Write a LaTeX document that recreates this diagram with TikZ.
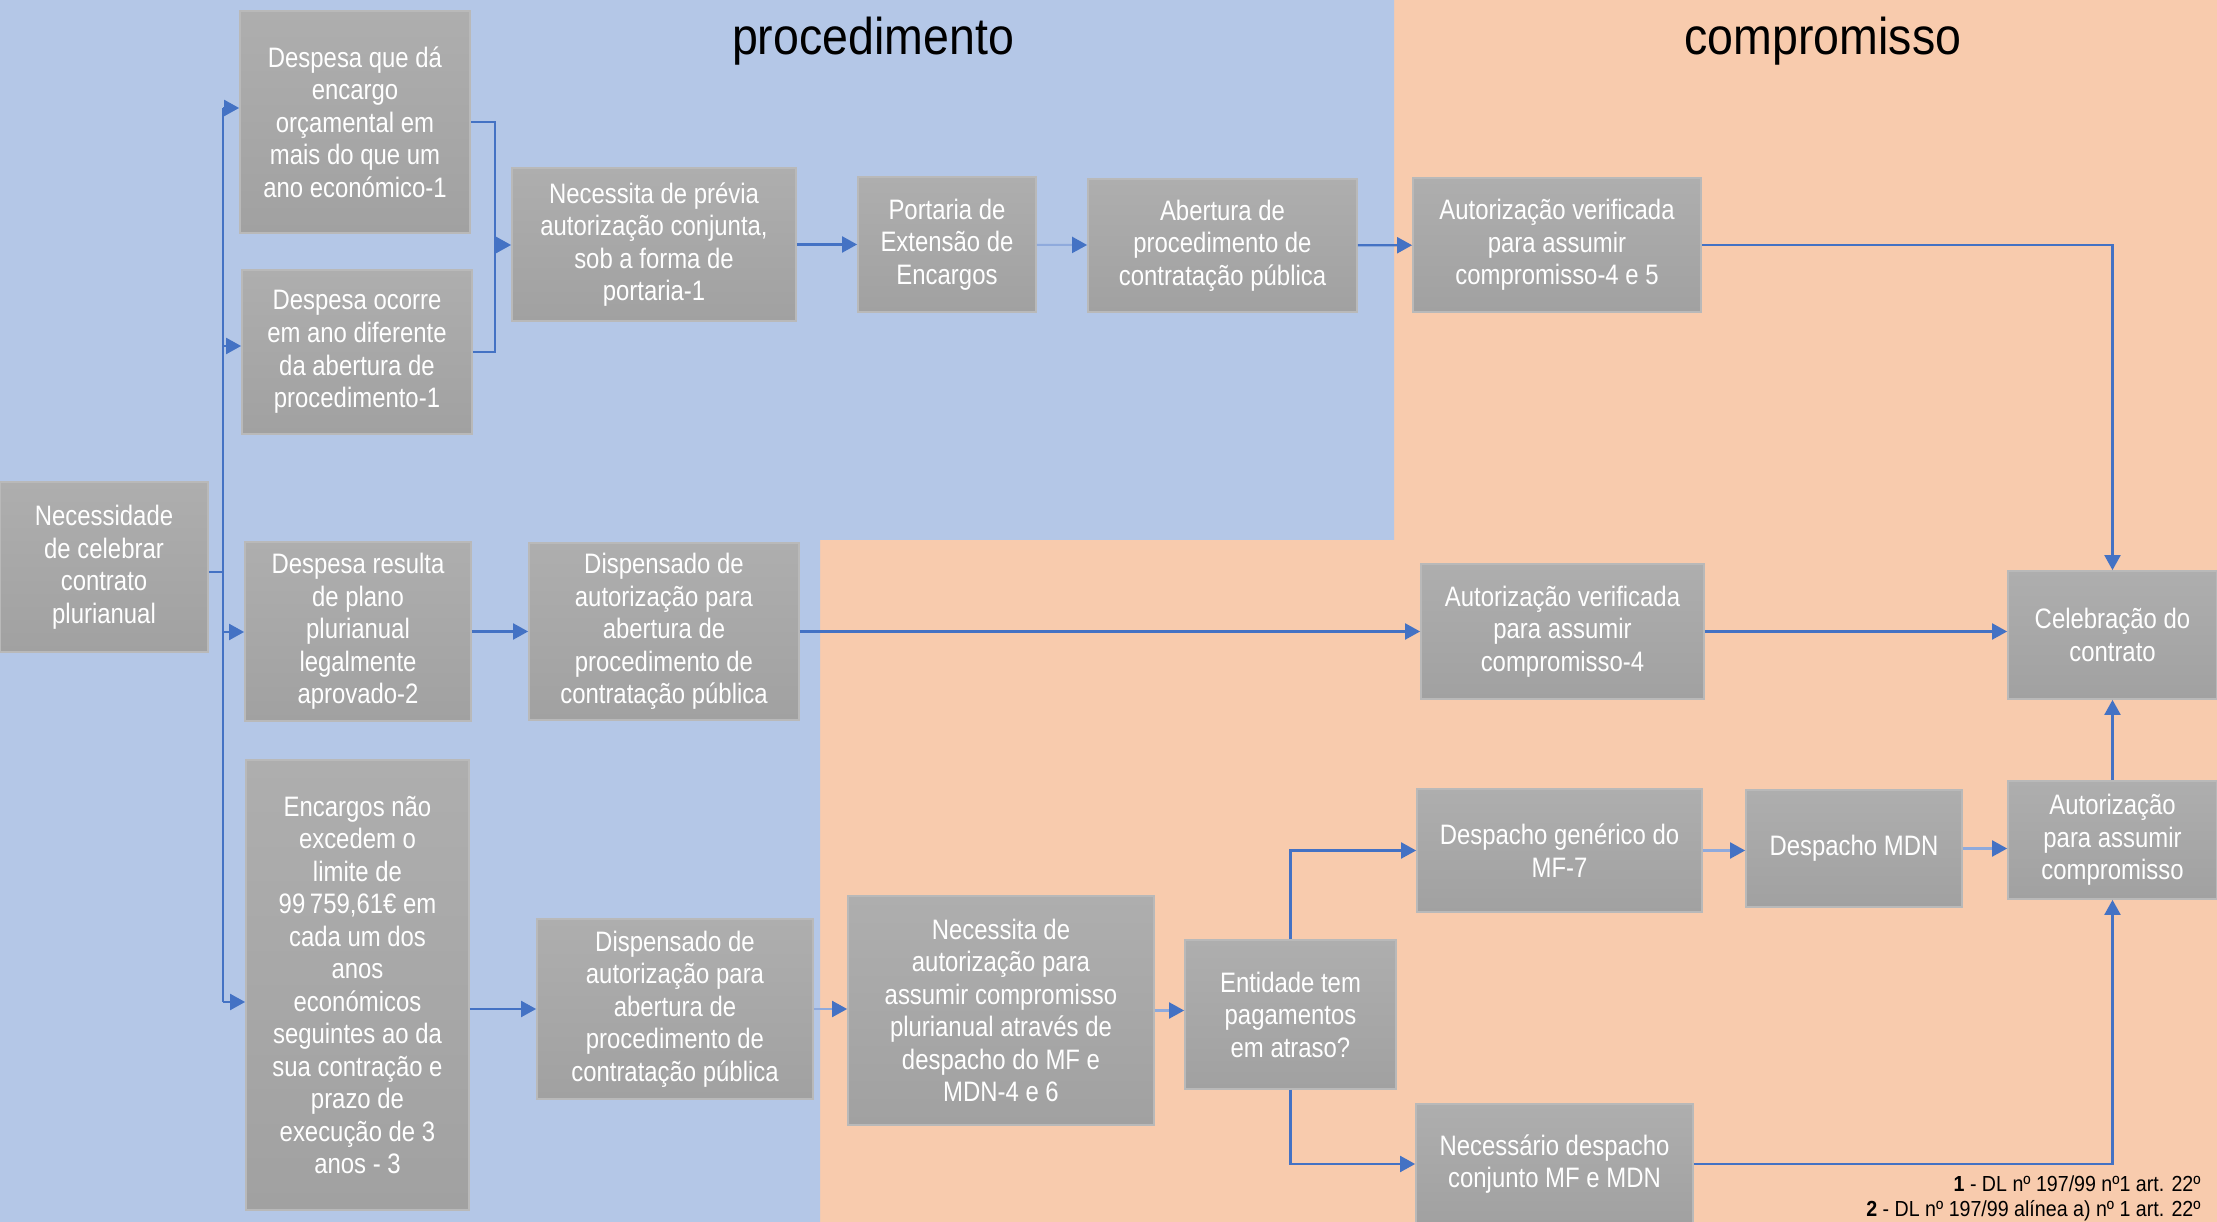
\documentclass[tikz,border=0pt]{standalone}
\usepackage{fontspec}
\setmainfont{Liberation Sans}[FakeStretch=0.85]
\newfontfamily\titlefont{Liberation Sans}[FakeStretch=0.9]
\usetikzlibrary{arrows.meta,calc}
\definecolor{bgblue}{RGB}{180,199,231}
\definecolor{bgorange}{RGB}{248,203,173}
\definecolor{lineblue}{RGB}{68,114,196}
\definecolor{boxtop}{RGB}{174,174,174}
\definecolor{boxbot}{RGB}{161,161,161}
\definecolor{boxedge}{RGB}{185,185,185}
\newcommand\BOX[6]{\node[box, minimum width={(#4-#2)*0.01cm}, minimum height={(#5-#3)*0.01cm}] (#1) at ({(#2+#4)/2},{(#3+#5)/2}) {#6};}
\begin{document}
\begin{tikzpicture}[x=0.01cm,y=-0.01cm,
  box/.style={draw=boxedge, line width=0.5pt, top color=boxtop, bottom color=boxbot,
    text=white, align=center, inner sep=1pt, font=\fontsize{8}{9.25}\selectfont},
  conn/.style={draw=lineblue, line width=0.6pt},
  arr/.style={conn, -{Triangle[length=0.15cm,width=0.16cm]}},
  arrl/.style={conn, draw=lineblue!60!white, -{Triangle[length=0.15cm,width=0.16cm,color=lineblue]}},
  title/.style={anchor=base, font=\titlefont\fontsize{14.7}{16}\selectfont},
  note/.style={anchor=base east, font=\titlefont\fontsize{6.2}{7.2}\selectfont}]
\useasboundingbox (0,0) rectangle (2217,1222);
% backgrounds
\fill[bgorange] (0,0) rectangle (2217,1222);
\fill[bgblue] (0,0) -- (1394,0) -- (1394,540) -- (820,540) -- (820,1222) -- (0,1222) -- cycle;
% titles
\node[title] (tproc) at (873,55) {procedimento};
\node[title] (tcomp) at (1823,55) {compromisso};
% boxes
\BOX{n1}{0}{482}{208}{652}{Necessidade\\de celebrar\\contrato\\plurianual}
\BOX{n2}{240}{11}{470}{233}{Despesa que dá\\encargo\\orçamental em\\mais do que um\\ano económico-1}
\BOX{n3}{242}{270}{472}{434}{Despesa ocorre\\em ano diferente\\da abertura de\\procedimento-1}
\BOX{n4}{512}{168}{796}{321}{Necessita de prévia\\autorização conjunta,\\sob a forma de\\portaria-1}
\BOX{n5}{858}{177}{1036}{312}{Portaria de\\Extensão de\\Encargos}
\BOX{n6}{1088}{179}{1357}{312}{Abertura de\\procedimento de\\contratação pública}
\BOX{n7}{1413}{178}{1701}{312}{Autorização verificada\\para assumir\\compromisso-4 e 5}
\BOX{n8}{245}{542}{471}{721}{Despesa resulta\\de plano\\plurianual\\legalmente\\aprovado-2}
\BOX{n9}{529}{543}{799}{720}{Dispensado de\\autorização para\\abertura de\\procedimento de\\contratação pública}
\BOX{n10}{1421}{564}{1704}{699}{Autorização verificada\\para assumir\\compromisso-4}
\BOX{n11}{2008}{571}{2217}{699}{Celebração do\\contrato}
\BOX{n12}{246}{760}{469}{1210}{Encargos não\\excedem o\\limite de\\99\,759,61€ em\\cada um dos\\anos\\económicos\\seguintes ao da\\sua contração e\\prazo de\\execução de 3\\anos - 3}
\BOX{n13}{537}{919}{813}{1099}{Dispensado de\\autorização para\\abertura de\\procedimento de\\contratação pública}
\BOX{n14}{848}{896}{1154}{1125}{Necessita de\\autorização para\\assumir compromisso\\plurianual através de\\despacho do MF e\\MDN-4 e 6}
\BOX{n15}{1185}{940}{1396}{1089}{Entidade tem\\pagamentos\\em atraso?}
\BOX{n16}{1417}{789}{1702}{912}{Despacho genérico do\\MF-7}
\BOX{n17}{1746}{790}{1962}{907}{Despacho MDN}
\BOX{n18}{2008}{781}{2217}{899}{Autorização\\para assumir\\compromisso}
\BOX{n19}{1416}{1104}{1693}{1224}{Necessário despacho\\conjunto MF e MDN}
% trunk coordinates
\coordinate (tA) at (223,572);
\coordinate (t2) at (223,108);
\coordinate (t3) at (223,346);
\coordinate (t8) at (223,632);
\coordinate (t12) at (223,1002);
\coordinate (j4) at (495,245);
% connectors
\draw[conn] (n1.east |- tA) -- (tA);
\draw[conn] (t2) -- (t12);
\draw[arr] (t2) -- (t2 -| n2.west);
\draw[arr] (t3) -- (t3 -| n3.west);
\draw[arr] (t8) -- (t8 -| n8.west);
\draw[arr] (t12) -- (t12 -| n12.west);
\draw[conn] (n2.east) -| (j4);
\draw[conn] (n3.east) -| (j4);
\draw[arr] (j4) -- (j4 -| n4.west);
\draw[arr] (n4) -- (n5);
\draw[arrl] (n5) -- (n6);
\draw[arr] (n6) -- (n7);
\draw[arr] (n7.east) -| (n11.north);
\draw[arr] (n8) -- (n9);
\draw[arr] (n9) -- (n10);
\draw[arr] (n10.east) -- (n10.east -| n11.west);
\draw[arr] (n12.east |- n13) -- (n13.west);
\draw[arrl] (n13) -- (n13 -| n14.west);
\draw[arrl] (n14.east) -- (n14.east -| n15.west);
\draw[arr] (n15.north) |- (n16.west);
\draw[arr] (n15.south) |- (n19.west);
\draw[arrl] (n16) -- (n16 -| n17.west);
\draw[arrl] (n17.east) -- (n17.east -| n18.west);
\draw[arr] (n18.north) -- (n11.south);
\draw[arr] (n19.east) -| (n18.south);
% notes
\node[note] (f1) at (2213,1192) {\textbf{1} - DL nº 197/99 nº1 art. 22º};
\node[note] (f2) at (2213,1216) {\textbf{2} - DL nº 197/99 alínea a) nº 1 art. 22º};
\end{tikzpicture}
\end{document}
